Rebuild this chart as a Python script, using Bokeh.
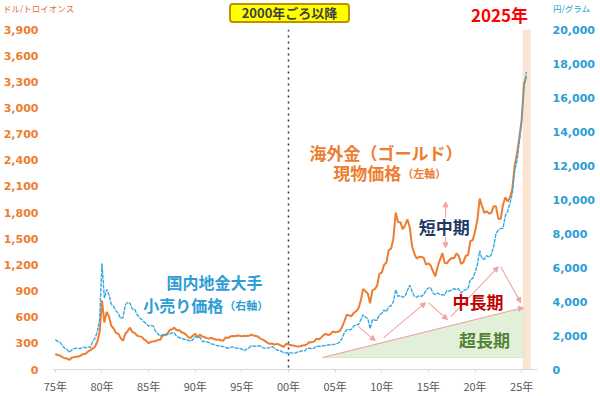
from bokeh.plotting import figure
from bokeh.layouts import column
from bokeh.models import (Range1d, LinearAxis, FixedTicker, NumeralTickFormatter, Span,
                          BoxAnnotation, Label, Arrow, NormalHead, ColumnDataSource, Div)
from bokeh.embed import file_html
from bokeh.resources import INLINE

# ---------------- data (quarterly readings, 1975Q1 ..) ----------------
gold_usd = [
    178, 166, 160, 142,   # 1975
    130, 126, 110, 134,   # 1976
    142, 146, 148, 162,   # 1977
    178, 180, 206, 222,   # 1978
    240, 262, 318, 430,   # 1979
    790, 540, 660, 610,   # 1980
    500, 470, 420, 410,   # 1981
    360, 330, 410, 440,   # 1982
    480, 430, 420, 390,   # 1983
    380, 375, 345, 330,   # 1984
    300, 318, 322, 326,   # 1985
    340, 342, 390, 400,   # 1986
    410, 450, 460, 480,   # 1987
    450, 452, 430, 420,   # 1988
    400, 372, 362, 390,   # 1989
    410, 370, 400, 380,   # 1990
    370, 360, 355, 362,   # 1991
    352, 340, 345, 335,   # 1992
    330, 368, 362, 378,   # 1993
    384, 382, 390, 386,   # 1994
    380, 388, 385, 386,   # 1995
    400, 390, 385, 376,   # 1996
    352, 342, 325, 305,   # 1997
    296, 298, 286, 294,   # 1998
    286, 272, 260, 295,   # 1999
    286, 280, 276, 268,   # 2000
    264, 266, 276, 278,   # 2001
    292, 314, 314, 320,   # 2002
    354, 345, 365, 395,   # 2003
    410, 395, 405, 435,   # 2004
    428, 432, 442, 488,   # 2005
    556, 630, 620, 612,   # 2006
    650, 668, 700, 790,   # 2007
    925, 898, 872, 760,   # 2008
    910, 922, 960, 1100,  # 2009
    1110, 1200, 1228, 1368,  # 2010
    1386, 1506, 1800, 1688,  # 2011
    1690, 1610, 1652, 1722,  # 2012
    1632, 1414, 1328, 1272,  # 2013
    1292, 1290, 1282, 1202,  # 2014
    1218, 1192, 1124, 1070,  # 2015
    1182, 1260, 1336, 1222,  # 2016
    1220, 1258, 1278, 1276,  # 2017
    1330, 1306, 1212, 1228,  # 2018
    1304, 1310, 1474, 1482,  # 2019
    1582, 1712, 1960, 1874,  # 2020
    1796, 1816, 1790, 1796,  # 2021
    1874, 1870, 1728, 1726,  # 2022
    1890, 1976, 1928, 1972,  # 2023
    2070, 2338, 2474, 2662,  # 2024
    2860, 3280, 3360,        # 2025
]

retail_jpy = [
    1760, 1650, 1600, 1420,   # 1975
    1250, 1180, 1000, 1150,   # 1976
    1230, 1250, 1230, 1250,   # 1977
    1320, 1280, 1330, 1300,   # 1978
    1650, 1850, 2200, 2950,   # 1979
    6250, 4200, 4700, 4400,   # 1980
    3850, 3700, 3450, 3300,   # 1981
    3000, 3050, 3800, 3950,   # 1982
    3900, 3550, 3550, 3250,   # 1983
    3050, 2950, 2800, 2700,   # 1984
    2550, 2600, 2550, 2250,   # 1985
    2100, 1950, 2050, 2000,   # 1986
    2050, 2100, 2150, 2150,   # 1987
    1950, 1880, 1850, 1780,   # 1988
    1780, 1720, 1660, 1760,   # 1989
    1950, 1880, 1900, 1650,   # 1990
    1650, 1620, 1580, 1500,   # 1991
    1480, 1420, 1380, 1360,   # 1992
    1350, 1300, 1250, 1300,   # 1993
    1330, 1280, 1240, 1250,   # 1994
    1200, 1100, 1200, 1270,   # 1995
    1390, 1380, 1360, 1390,   # 1996
    1380, 1270, 1260, 1270,   # 1997
    1280, 1350, 1250, 1150,   # 1998
    1120, 1070, 980, 970,     # 1999
    990, 980, 960, 970,       # 2000
    1040, 1060, 1110, 1100,   # 2001
    1250, 1260, 1220, 1260,   # 2002
    1380, 1350, 1380, 1400,   # 2003
    1420, 1440, 1460, 1470,   # 2004
    1490, 1540, 1610, 1850,   # 2005
    2170, 2350, 2340, 2360,   # 2006
    2560, 2640, 2630, 2920,   # 2007
    3220, 3080, 3000, 2400,   # 2008
    2950, 2900, 2900, 3220,   # 2009
    3300, 3500, 3400, 3700,   # 2010
    3750, 4000, 4700, 4300,   # 2011
    4350, 4250, 4300, 4650,   # 2012
    4950, 4600, 4300, 4250,   # 2013
    4350, 4300, 4400, 4650,   # 2014
    4800, 4800, 4500, 4400,   # 2015
    4500, 4400, 4400, 4400,   # 2016
    4650, 4600, 4700, 4750,   # 2017
    4700, 4750, 4500, 4650,   # 2018
    4700, 4750, 5300, 5350,   # 2019
    5700, 6150, 7000, 6500,   # 2020
    6500, 6700, 6600, 6750,   # 2021
    7250, 8000, 8200, 8300,   # 2022
    8300, 9050, 9300, 9800,   # 2023
    10350, 11700, 12300, 13400,  # 2024
    14600, 16500, 17500,      # 2025
]

tick_years = [1975, 1980, 1985, 1990, 1995, 2000, 2005, 2010, 2015, 2020, 2025]
tick_year_labels = ["75年", "80年", "85年", "90年", "95年", "00年", "05年", "10年", "15年", "20年", "25年"]
left_ticks = list(range(0, 3901, 300))
right_ticks = list(range(0, 20001, 2000))

quarter_pos = [1975 + i / 4 for i in range(len(gold_usd))]

# ---------------- styles ----------------
ORANGE = "#ED7D31"
BLUE = "#38A8E0"
BLUE_TXT = "#2E9DD6"
PINK = "#F2A3A3"
JP = "Noto Sans CJK JP"
NUM = "DejaVu Sans"

HEADER_H = 22

header = Div(width=600, height=HEADER_H, margin=(0, 0, 0, 0),
             styles={"overflow": "visible"},
             text=f"""
<div style="position:relative;width:600px;height:{HEADER_H}px;overflow:visible;font-family:'{JP}';">
 <span style="position:absolute;left:3px;top:2px;font-size:8.5px;line-height:12px;color:#E2703A;white-space:nowrap;">ドル/トロイオンス</span>
 <span style="position:absolute;left:229px;top:3px;width:121px;height:20px;box-sizing:border-box;background:#FFFF00;border:2px solid #BF9000;border-radius:4px;font-size:13px;font-weight:bold;color:#404040;text-align:center;line-height:16px;white-space:nowrap;">2000年ごろ以降</span>
 <span style="position:absolute;left:471px;top:5px;font-size:17px;font-weight:bold;line-height:20px;color:#FF0000;white-space:nowrap;">2025年</span>
 <span style="position:absolute;left:553px;top:2px;font-size:8.5px;line-height:12px;color:{BLUE_TXT};white-space:nowrap;">円/グラム</span>
</div>""")

p = figure(width=600, height=396 - HEADER_H, output_backend="svg", toolbar_location=None,
           x_range=Range1d(1974.8, 2026.7), y_range=Range1d(0, 3900),
           min_border_left=53, min_border_right=63, min_border_top=29 - HEADER_H,
           min_border_bottom=26)
p.extra_y_ranges = {"yen": Range1d(0, 20000)}
p.outline_line_color = None
p.xgrid.visible = False
p.ygrid.visible = False
p.background_fill_color = "white"
p.border_fill_alpha = 0

# x axis
xa = p.xaxis[0]
xa.ticker = FixedTicker(ticks=tick_years)
xa.major_label_overrides = {y: lab for y, lab in zip(tick_years, tick_year_labels)}
xa.axis_line_color = "#D9D9D9"
xa.major_tick_line_color = "#D9D9D9"
xa.major_tick_in = 0
xa.major_tick_out = 3
xa.minor_tick_line_color = None
xa.minor_tick_out = 0
xa.major_label_text_color = "#595959"
xa.major_label_text_font = JP
xa.major_label_text_font_size = "11px"
xa.major_label_standoff = 5

# left axis
ya = p.yaxis[0]
ya.ticker = FixedTicker(ticks=left_ticks)
ya.formatter = NumeralTickFormatter(format="0,0")
ya.axis_line_color = None
ya.major_tick_line_color = None
ya.minor_tick_line_color = None
ya.major_tick_out = 0
ya.minor_tick_out = 0
ya.major_label_text_color = ORANGE
ya.major_label_text_font = NUM
ya.major_label_text_font_style = "bold"
ya.major_label_text_font_size = "11px"
ya.major_label_standoff = 15

# right axis
ra = LinearAxis(y_range_name="yen", ticker=FixedTicker(ticks=right_ticks),
                formatter=NumeralTickFormatter(format="0,0"))
ra.axis_line_color = None
ra.major_tick_line_color = None
ra.minor_tick_line_color = None
ra.major_tick_out = 0
ra.minor_tick_out = 0
ra.major_label_text_color = BLUE_TXT
ra.major_label_text_font = NUM
ra.major_label_text_font_style = "bold"
ra.major_label_text_font_size = "11px"
ra.major_label_standoff = 15
p.add_layout(ra, "right")

# 2025 highlight band
p.add_layout(BoxAnnotation(left=2025.1, right=2025.97, fill_color="#FCE4D2", fill_alpha=1.0,
                           line_color=None, level="underlay"))

# long-term triangle
p.patch([2003.65, 2025.2, 2025.2], [137, 137, 709], fill_color="#E2F0D9",
        line_color="#D6E8CC", line_width=1)

src = ColumnDataSource(dict(x=quarter_pos, gold=gold_usd, yen=retail_jpy))
p.line("x", "gold", source=src, line_color=ORANGE, line_width=2)
p.line("x", "yen", source=src, line_color=BLUE, line_width=1.4, line_dash="4 1",
       y_range_name="yen")

# 2000 dotted marker
p.add_layout(Span(location=2000, dimension="height", line_color="#1F3864",
                  line_dash="dotted", line_width=1.5))

# arrows
def arrow(x0, y0, x1, y1):
    p.add_layout(Arrow(x_start=x0, y_start=y0, x_end=x1, y_end=y1,
                       line_color=PINK, line_width=1.1,
                       end=NormalHead(size=5, fill_color=PINK, line_color=PINK)))

arrow(2003.65, 137, 2025.2, 709)
arrow(2007.5, 492, 2009.3, 332)
arrow(2010.2, 366, 2014.7, 767)
arrow(2015.0, 767, 2017.05, 572)
arrow(2017.4, 606, 2022.5, 1178)
arrow(2022.75, 1178, 2024.9, 767)
arrow(2016.84, 1740, 2016.84, 1922)
arrow(2016.84, 1520, 2016.84, 1396)

def label(x, y, text, color, size, bold=True, align="center", font=JP):
    p.add_layout(Label(x=x, y=y, text=text, text_color=color, text_font=font,
                       text_font_size=size, text_font_style="bold" if bold else "normal",
                       text_align=align, text_baseline="middle"))

label(1992.06, 1007, "国内地金大手", BLUE_TXT, "16px")
label(1993.0, 744, "小売り価格", BLUE_TXT, "16px", align="right")
label(1993.1, 744, "（右軸）", BLUE_TXT, "11px", align="left")
label(2010.46, 2494, "海外金（ゴールド）", ORANGE, "17px")
label(2012.1, 2254, "現物価格", ORANGE, "17px", align="right")
label(2012.2, 2254, "（左軸）", ORANGE, "11px", align="left")
label(2016.7, 1640, "短中期", "#203864", "17px")
label(2020.33, 778, "中長期", "#C00000", "17px")
label(2021.03, 343, "超長期", "#548235", "17px")

layout = column(header, p, spacing=0)
open("out.html", "w").write(file_html(layout, INLINE))
